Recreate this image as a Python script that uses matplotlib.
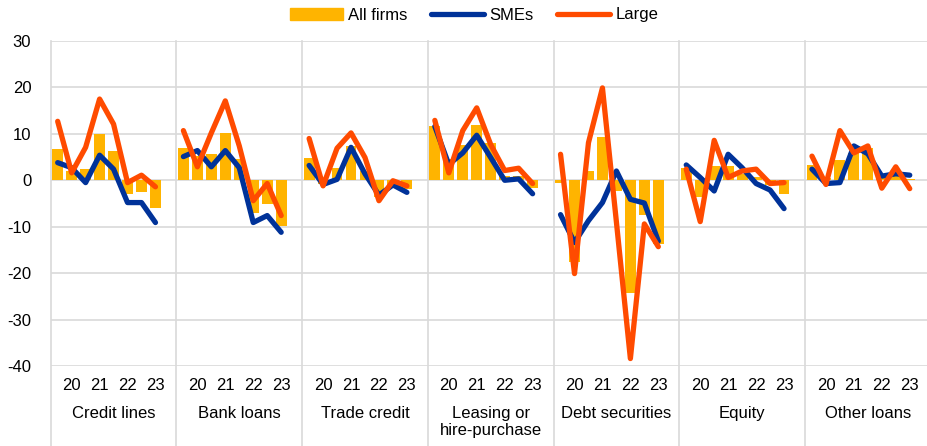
import matplotlib
matplotlib.use("Agg")
import matplotlib.pyplot as plt
from matplotlib.patches import Patch
from matplotlib.lines import Line2D
import matplotlib.transforms as mtransforms

plt.rcParams["font.family"] = ["Liberation Sans", "DejaVu Sans"]
plt.rcParams["font.size"] = 12
plt.rcParams["axes.unicode_minus"] = False

###############################################################################
# Data (net percentages, eight survey rounds per instrument)
#
groups = ["Credit lines", "Bank loans", "Trade credit", "Leasing or\nhire-purchase",
          "Debt securities", "Equity", "Other loans"]
year_labels = ["20", "21", "22", "23"]

all_firms = [
    [6.7, 2.0, 2.5, 9.9, 6.3, -3.0, -2.5, -5.9],
    [6.9, 5.2, 5.7, 10.2, 4.5, -7.1, -5.0, -9.8],
    [4.9, -0.7, 2.6, 7.4, 2.0, -3.6, -1.5, -1.9],
    [11.8, 4.5, 7.7, 12.0, 8.0, 0.9, 1.0, -1.7],
    [-0.5, -17.5, 2.1, 9.3, -2.4, -24.2, -7.5, -13.7],
    [2.7, -3.6, 3.0, 3.1, 1.3, 0.7, -1.0, -3.0],
    [3.3, 0.5, 4.3, 5.9, 7.0, 0.5, 1.3, 0.3],
]
smes = [
    [3.8, 2.7, -0.5, 5.4, 2.4, -4.8, -4.8, -9.1],
    [5.1, 6.4, 2.9, 6.4, 2.7, -9.1, -7.6, -11.2],
    [3.2, -0.9, 0.2, 7.1, 1.4, -3.2, -1.0, -2.6],
    [11.6, 3.4, 5.9, 9.7, 4.9, 0.0, 0.3, -2.9],
    [-7.4, -13.4, -8.7, -4.8, 2.0, -4.1, -4.9, -13.1],
    [3.3, 0.6, -2.3, 5.6, 2.7, -0.7, -2.1, -6.1],
    [2.4, -0.7, -0.5, 7.4, 5.7, 0.9, 1.4, 1.1],
]
large = [
    [12.7, 1.6, 7.1, 17.5, 12.1, -0.5, 1.1, -1.4],
    [10.7, 2.9, 10.2, 17.1, 7.4, -4.4, -0.7, -7.6],
    [9.0, -1.2, 6.9, 10.2, 4.9, -4.4, -0.1, -1.2],
    [12.9, 1.6, 10.7, 15.6, 7.7, 2.1, 2.6, -0.7],
    [5.6, -20.1, 8.1, 19.9, -9.0, -38.4, -9.4, -14.3],
    [2.4, -8.9, 8.6, 0.6, 2.0, 2.4, -0.7, -0.5],
    [5.2, -0.9, 10.7, 5.9, 7.4, -1.7, 2.9, -1.8],
]

YELLOW = "#FFB400"
BLUE = "#003299"
ORANGE = "#FF4B00"
GRID = "#D9D9D9"

###############################################################################
# Figure
#
W, H = 928, 446
fig = plt.figure(figsize=(W / 100, H / 100), dpi=100)
ax_left, ax_right = 50.7, 930.7
ax_top, ax_bottom = 41, 366
ax = fig.add_axes([ax_left / W, (H - ax_bottom) / H,
                   (ax_right - ax_left) / W, (ax_bottom - ax_top) / H])

slots = 9
for g in range(len(groups)):
    xs = [g * slots + i + 0.5 for i in range(8)]
    ax.bar(xs, all_firms[g], width=0.78, color=YELLOW, zorder=2)
    ax.plot(xs, smes[g], color=BLUE, lw=3.8, solid_capstyle="round",
            solid_joinstyle="round", zorder=3)
    ax.plot(xs, large[g], color=ORANGE, lw=3.8, solid_capstyle="round",
            solid_joinstyle="round", zorder=4)

ax.set_xlim(0, slots * len(groups))
ax.set_ylim(-40, 30)
ax.set_yticks(range(-40, 31, 10))
ax.yaxis.grid(True, color=GRID, lw=1.2)
ax.set_axisbelow(True)
for s in ax.spines.values():
    s.set_visible(False)
ax.tick_params(axis="y", length=0, pad=14, labelsize=12)

# year ticks
xt, xl = [], []
for g in range(len(groups)):
    for k, lab in enumerate(year_labels):
        xt.append(g * slots + 2 * k + 1.5)
        xl.append(lab)
ax.set_xticks(xt)
ax.set_xticklabels(xl)
ax.tick_params(axis="x", length=0, pad=9, labelsize=12)

# group separators and names
trans = mtransforms.blended_transform_factory(ax.transData, ax.transAxes)
below = -(H - ax_bottom) / (ax_bottom - ax_top)
for g in range(len(groups)):
    ax.plot([g * slots, g * slots], [1, below], transform=trans, color=GRID,
            lw=1.2, clip_on=False, zorder=1)
    ax.text(g * slots + 4.5, (ax_bottom - 406) / (ax_bottom - ax_top), groups[g],
            transform=trans, ha="center", va="top", fontsize=12, linespacing=1.15)

# legend
handles = [Patch(color=YELLOW), Line2D([], [], color=BLUE, lw=3.8, solid_capstyle="round"),
           Line2D([], [], color=ORANGE, lw=3.8, solid_capstyle="round")]
fig.legend(handles, ["All firms", "SMEs", "Large"], loc="center",
           bbox_to_anchor=(474 / W, 1 - 15 / H), ncol=3, frameon=False,
           handlelength=3.2, handletextpad=0.3, columnspacing=1.4, fontsize=12)

fig.savefig("out.png", dpi=100)
